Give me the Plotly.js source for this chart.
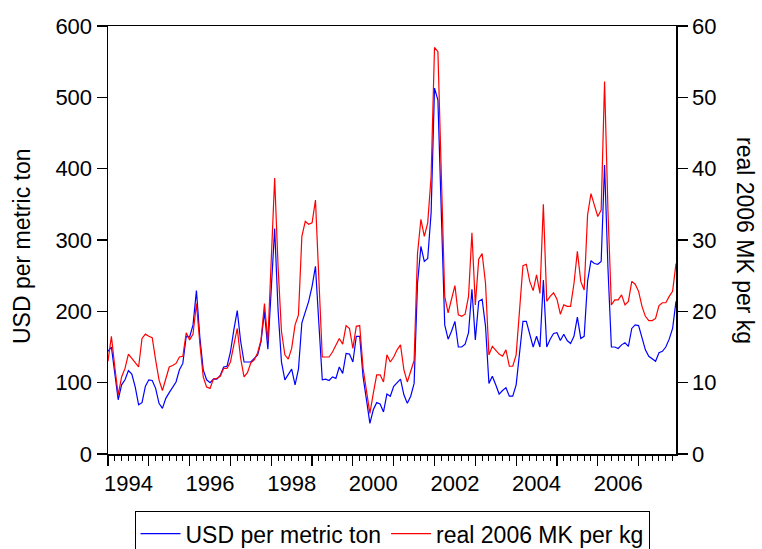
<!DOCTYPE html>
<html><head><meta charset="utf-8">
<script src="https://cdn.plot.ly/plotly-3.0.1.min.js"></script>
<style>html,body{margin:0;padding:0;background:#fff}#chart{width:762px;height:549px}</style>
</head><body><div id="chart"></div>
<script>
// Monthly series, January 1994 to December 2007
const startYear = 1994;
const usdPerTon = [
144,150,113,76,97,104,117,112,94,69,72,95,
104,103,92,71,64,78,86,94,101,118,127,165,
164,181,229,164,118,104,100,105,105,110,122,123,
143,174,201,158,129,129,129,134,139,158,200,147,
240,316,202,129,104,111,119,97,119,184,200,214,
235,263,183,104,105,103,108,106,122,113,141,140,
129,165,165,108,76,43,62,72,70,59,84,81,
95,100,105,83,71,81,99,239,291,270,274,338,
513,496,350,181,161,172,186,150,150,154,170,231,
160,214,217,179,99,109,97,84,89,93,81,81,
97,141,186,186,167,150,165,150,244,150,161,169,
170,159,168,159,155,165,192,162,165,242,271,267,
266,270,405,260,150,150,148,153,156,151,176,181,
180,161,146,137,133,130,142,144,150,161,176,214
];
const realMkPerKg = [
13.0,16.5,12.2,8.3,10.8,12.0,14.0,13.4,12.8,12.2,16.2,16.8,
16.5,16.3,13.2,10.4,8.9,10.4,12.2,12.4,12.7,13.6,13.7,17.0,
16.0,16.8,21.1,15.5,10.8,9.4,9.2,10.5,10.6,10.9,12.0,12.0,
12.9,15.3,17.6,13.4,10.8,11.4,12.8,13.2,14.2,16.0,21.1,15.8,
28.0,38.7,26.3,17.2,13.9,13.3,14.8,18.1,19.5,30.5,32.6,32.2,
32.4,35.6,24.5,13.6,13.6,13.6,14.3,15.3,16.2,15.4,18.0,17.6,
14.8,17.9,18.0,12.0,9.0,5.7,8.5,11.1,11.1,10.1,13.9,12.9,
13.6,14.6,15.3,11.8,10.1,11.5,13.1,28.1,32.9,30.5,32.4,38.9,
57.0,56.4,38.0,22.1,19.8,21.8,23.6,19.5,19.3,19.6,22.1,31.0,
20.9,27.3,28.1,23.9,13.9,15.1,14.6,14.0,13.7,14.6,12.3,12.3,
13.9,20.2,26.4,26.6,24.2,22.9,25.1,22.5,35.0,21.4,22.1,22.6,
21.7,19.6,20.9,20.7,20.7,23.9,28.4,24.2,23.0,33.5,36.5,34.9,
33.3,34.2,52.2,34.0,20.9,21.6,21.6,22.3,20.9,21.4,24.2,23.8,
22.8,20.7,19.3,18.7,18.7,19.0,20.8,21.2,21.2,22.1,22.8,26.7
];
const yearTicks = [1994,1995,1996,1997,1998,1999,2000,2001,2002,2003,2004,2005,2006,2007];
const labelYears = [1994,1996,1998,2000,2002,2004,2006];
const yearLabels = ["1994","1996","1998","2000","2002","2004","2006"];
const leftTicks = [0,100,200,300,400,500,600];
const rightTicks = [0,10,20,30,40,50,60];
const seriesNames = ["USD per metric ton","real 2006 MK per kg"];

const xs = usdPerTon.map((_, i) => startYear + i / 12);
const xEnd = startYear + (usdPerTon.length - 1) / 12;

const FONT = "Arial, 'Liberation Sans', sans-serif";
const FS = 22;
const FT = 23;

const traces = [
  {x: xs, y: usdPerTon, name: seriesNames[0], type: 'scatter', mode: 'lines',
   line: {color: '#0000ff', width: 1.2}, xaxis: 'x', yaxis: 'y'},
  {x: xs, y: realMkPerKg, name: seriesNames[1], type: 'scatter', mode: 'lines',
   line: {color: '#ff0000', width: 1.2}, xaxis: 'x', yaxis: 'y2'},
  {x: [startYear], y: [0], xaxis: 'x2', yaxis: 'y', type: 'scatter', mode: 'markers',
   marker: {opacity: 0}, showlegend: false, hoverinfo: 'skip'}
];

const axisCommon = {showline: true, linecolor: '#000', linewidth: 1.5, ticks: 'outside',
  ticklen: 10, tickwidth: 1.2, tickcolor: '#000', showgrid: false, zeroline: false,
  tickfont: {family: FONT, size: FS, color: '#000'}};

const layout = {
  width: 762, height: 549,
  margin: {l: 108, r: 86, t: 26, b: 95, pad: 0},
  paper_bgcolor: '#fff', plot_bgcolor: '#fff',
  font: {family: FONT, size: FS, color: '#000'},
  showlegend: true,
  xaxis: Object.assign({}, axisCommon, {
    range: [startYear, xEnd], tickmode: 'array', tickvals: yearTicks,
    showticklabels: false, mirror: true,
    minor: {dtick: 1/6, tick0: startYear, ticks: 'outside', ticklen: 5, tickcolor: '#000', tickwidth: 1, showgrid: false}
  }),
  xaxis2: {range: [startYear, xEnd], overlaying: 'x', anchor: 'y', side: 'bottom',
    tickmode: 'array', tickvals: labelYears.map(y => y + 0.5), ticktext: yearLabels,
    ticks: 'outside', ticklen: 10, tickcolor: 'rgba(0,0,0,0)', showline: false, showgrid: false, zeroline: false,
    tickfont: {family: FONT, size: FS, color: '#000'}},
  yaxis: Object.assign({}, axisCommon, {range: [0, 600], tickmode: 'array', tickvals: leftTicks}),
  yaxis2: Object.assign({}, axisCommon, {range: [0, 60], tickmode: 'array', tickvals: rightTicks,
    overlaying: 'y', side: 'right'}),
  legend: {orientation: 'h', x: 0.5, xanchor: 'center', yref: 'container', y: 0.069, yanchor: 'top',
    bordercolor: '#000', borderwidth: 1, font: {family: FONT, size: FT, color: '#000'},
    itemwidth: 40},
  annotations: [
    {text: seriesNames[0], xref: 'paper', yref: 'paper', x: -0.1514, y: 0.486,
     textangle: -90, showarrow: false, font: {family: FONT, size: FT, color: '#000'},
     xanchor: 'center', yanchor: 'middle'},
    {text: seriesNames[1], xref: 'paper', yref: 'paper', x: 1.1215, y: 0.5,
     textangle: 90, showarrow: false, font: {family: FONT, size: FT, color: '#000'},
     xanchor: 'center', yanchor: 'middle'}
  ]
};

Plotly.newPlot('chart', traces, layout, {displayModeBar: false, staticPlot: true});
</script>
</body></html>
